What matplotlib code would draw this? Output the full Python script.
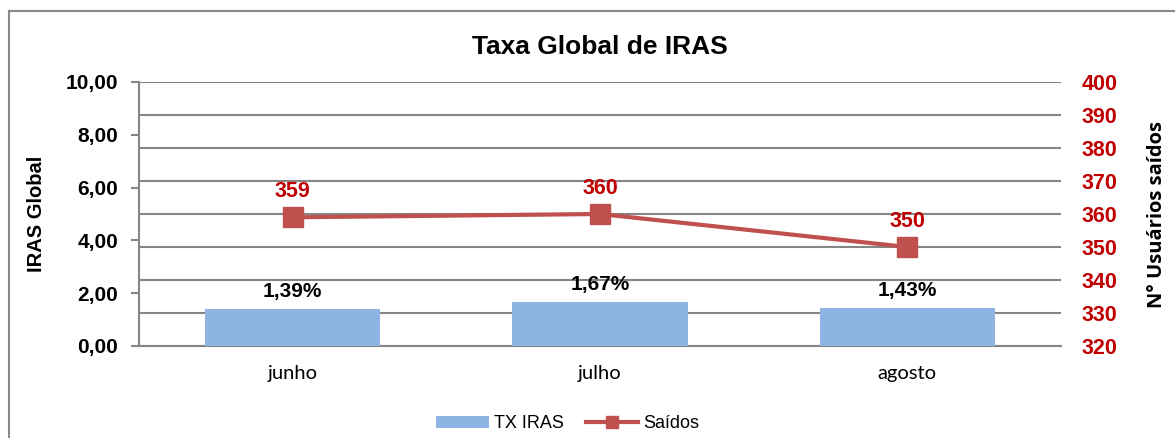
import matplotlib
matplotlib.use("Agg")
import matplotlib.pyplot as plt
from matplotlib.lines import Line2D
from matplotlib.patches import Patch
from matplotlib.ticker import FuncFormatter

categories = ["junho", "julho", "agosto"]
tx_iras = [1.39, 1.67, 1.43]
saidos = [359, 360, 350]
left_ticks = [0, 2, 4, 6, 8, 10]
right_ticks = [320, 330, 340, 350, 360, 370, 380, 390, 400]

BAR = "#8EB4E3"
LINE = "#C0504D"
RED = "#C00000"
GRID = "#868686"
ARIAL = ["Liberation Sans", "DejaVu Sans"]
CALIBRI = ["Lato", "DejaVu Sans"]

fig = plt.figure(figsize=(11.75, 4.38), dpi=100)
W, H = 1175, 438
ax = fig.add_axes([139 / W, 1 - 346 / H, (1061 - 139) / W, (346 - 82) / H])
ax2 = ax.twinx()
ax.set_zorder(ax2.get_zorder() + 1)
ax.patch.set_visible(False)

x = list(range(len(categories)))
bars = ax.bar(x, tx_iras, width=0.57, color=BAR, label="TX IRAS", zorder=3)
ax.set_xlim(-0.5, 2.5)
ax.set_ylim(0, 10)
ax.set_yticks(left_ticks)
ax.yaxis.set_major_formatter(FuncFormatter(lambda v, p: f"{v:.2f}".replace(".", ",")))
for lab in ax.get_yticklabels():
    lab.set_fontfamily(ARIAL)
    lab.set_fontweight("bold")
    lab.set_fontsize(15)
ax.tick_params(axis="y", length=6, width=1.5, color=GRID, pad=9)
ax.set_xticks(x)
ax.set_xticklabels(categories, fontfamily=CALIBRI, fontsize=14.5)
ax.tick_params(axis="x", length=0, pad=14)
for s in ["top", "right"]:
    ax.spines[s].set_visible(False)
for s in ["left", "bottom"]:
    ax.spines[s].set_color(GRID)
    ax.spines[s].set_linewidth(1.5)

for xi, v in zip(x, tx_iras):
    ax.annotate(f"{v:.2f}".replace(".", ",") + "%", (xi, v), xytext=(0, 6),
                textcoords="offset points", ha="center", va="bottom",
                fontfamily=ARIAL, fontweight="bold", fontsize=15, color="black")

ax.set_ylabel("IRAS Global", fontfamily=ARIAL, fontweight="bold", fontsize=14.5, labelpad=14)

line, = ax2.plot(x, saidos, color=LINE, lw=3, marker="s", markersize=14,
                 label="Saídos", zorder=4)
ax2.set_ylim(320, 400)
ax2.set_yticks(right_ticks)
for lab in ax2.get_yticklabels():
    lab.set_fontfamily(ARIAL)
    lab.set_fontweight("bold")
    lab.set_fontsize(15.5)
    lab.set_color(RED)
ax2.tick_params(axis="y", length=0, pad=15)
ax2.grid(axis="y", color=GRID, lw=1.5)
for s in ax2.spines.values():
    s.set_visible(False)
for xi, v in zip(x, saidos):
    ax2.annotate(f"{v}", (xi, v), xytext=(0, 11), textcoords="offset points",
                 ha="center", va="bottom", fontfamily=ARIAL, fontweight="bold",
                 fontsize=15.5, color=RED)
ax2.set_ylabel("N° Usuários saídos", fontfamily=["Open Sans", "DejaVu Sans"],
               fontweight="bold", fontsize=14.5, labelpad=21)

fig.suptitle("Taxa Global de IRAS", x=(139 + 1061) / 2 / W, y=1 - 47 / H,
             va="center", fontfamily=ARIAL, fontweight="bold", fontsize=19)

leg_bar = Patch(facecolor=BAR, edgecolor="none")
leg_line = Line2D([], [], color=LINE, lw=3, marker="s", markersize=9)
fig.legend([leg_bar, leg_line], ["TX IRAS", "Saídos"], loc="center",
           bbox_to_anchor=(568 / W, 1 - 424 / H), ncol=2, frameon=False,
           prop={"family": ARIAL, "size": 13}, handlelength=2.9, handleheight=0.6,
           handletextpad=0.3, columnspacing=1.2)

# outer chart border (top and left visible)
fig.add_artist(Line2D([9 / W, 9 / W], [0, 1 - 11 / H], color="#898989", lw=1.5,
                      transform=fig.transFigure))
fig.add_artist(Line2D([9 / W, 1], [1 - 11 / H, 1 - 11 / H], color="#898989", lw=1.5,
                      transform=fig.transFigure))

fig.savefig("out.png", dpi=100, facecolor="white")
